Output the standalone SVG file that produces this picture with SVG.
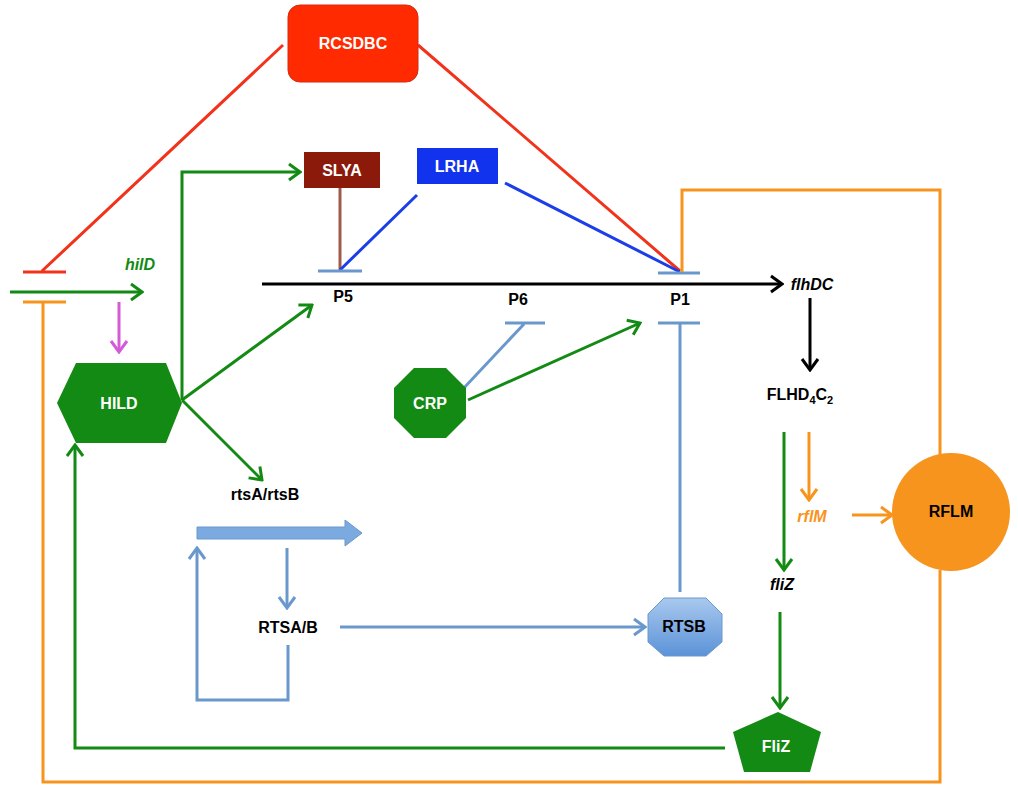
<svg xmlns="http://www.w3.org/2000/svg" width="1018" height="800" viewBox="0 0 1018 800">
<defs>
<style>
text{font-family:"Liberation Sans",Arial,sans-serif;font-weight:bold;font-size:16px;text-anchor:middle}
.w{fill:#fff}
.g{stroke:#138a13;stroke-width:3;fill:none}
.o{stroke:#f7941d;stroke-width:3;fill:none}
.b{stroke:#6b98cc;stroke-width:3;fill:none}
.r{stroke:#f2321a;stroke-width:3;fill:none}
</style>
<marker id="ag" viewBox="0 0 16 20" refX="14" refY="10" markerWidth="16" markerHeight="20" orient="auto" markerUnits="userSpaceOnUse"><path d="M3,2 L14,10 L3,18" fill="none" stroke="#138a13" stroke-width="3"/></marker>
<marker id="ao" viewBox="0 0 16 20" refX="14" refY="10" markerWidth="16" markerHeight="20" orient="auto" markerUnits="userSpaceOnUse"><path d="M3,2 L14,10 L3,18" fill="none" stroke="#f7941d" stroke-width="3"/></marker>
<marker id="ab" viewBox="0 0 16 20" refX="14" refY="10" markerWidth="16" markerHeight="20" orient="auto" markerUnits="userSpaceOnUse"><path d="M3,2 L14,10 L3,18" fill="none" stroke="#6b98cc" stroke-width="3"/></marker>
<marker id="ak" viewBox="0 0 16 20" refX="14" refY="10" markerWidth="16" markerHeight="20" orient="auto" markerUnits="userSpaceOnUse"><path d="M3,2 L14,10 L3,18" fill="none" stroke="#000" stroke-width="3"/></marker>
<marker id="am" viewBox="0 0 16 20" refX="14" refY="10" markerWidth="16" markerHeight="20" orient="auto" markerUnits="userSpaceOnUse"><path d="M3,2 L14,10 L3,18" fill="none" stroke="#d45ad8" stroke-width="3"/></marker>
<linearGradient id="bl" x1="0" y1="0" x2="0" y2="1"><stop offset="0" stop-color="#a9c8ee"/><stop offset="1" stop-color="#5b93d8"/></linearGradient>
</defs>
<rect width="1018" height="800" fill="#fff"/>
<g id="connectors">
<path class="r" d="M283,45 L42,271 M23,272 H66 M418,45 L680,271"/>
<path d="M340,188 V270" stroke="#a05a4a" stroke-width="3"/>
<path d="M417,195 L340,270 M505,183 L680,272" stroke="#1b3ee8" stroke-width="3"/>
<path class="b" d="M318,271 H362 M658,273 H700 M505,323 H545 M658,323 H700 M680,323 V592 M462,390 L524,324"/>
<path d="M262,284 H782" stroke="#000" stroke-width="3" marker-end="url(#ak)"/>
<path d="M810,298 V370" stroke="#000" stroke-width="3" marker-end="url(#ak)"/>
<path class="g" d="M10,292 H142" marker-end="url(#ag)"/>
<path class="o" d="M23,302 H66 M43,302 V782 H940 V570 M940,455 V190 H682 V272"/>
<path d="M119,302 V352" stroke="#d45ad8" stroke-width="3" marker-end="url(#am)"/>
<path class="g" d="M182,400 V172 H300" marker-end="url(#ag)"/>
<path class="g" d="M182,400 L312,305" marker-end="url(#ag)"/>
<path class="g" d="M182,400 L262,480" marker-end="url(#ag)"/>
<path class="g" d="M468,400 L640,323" marker-end="url(#ag)"/>
<path class="g" d="M784,432 V570" marker-end="url(#ag)"/>
<path class="o" d="M809,432 V500" marker-end="url(#ao)"/>
<path class="o" d="M852,515 H892" marker-end="url(#ao)"/>
<path class="g" d="M780,612 V708" marker-end="url(#ag)"/>
<path class="g" d="M725,748 H75 V445" marker-end="url(#ag)"/>
<path d="M197,527 H345 V520 L362,533 L345,546 V539 H197 Z" fill="#7aaae0" stroke="#6b98cc" stroke-width="1"/>
<path class="b" d="M287,548 V608" marker-end="url(#ab)"/>
<path class="b" d="M288,645 V700 H197 V548" marker-end="url(#ab)"/>
<path class="b" d="M340,627 H645" marker-end="url(#ab)"/>
</g>
<g id="RCSDBC"><rect x="288" y="5" width="130" height="77" rx="12" fill="#ff2a00" stroke="#d62a10"/><text class="w" x="353" y="49">RCSDBC</text></g>
<g id="SLYA"><rect x="304" y="152" width="76" height="36" fill="#8b1a0a"/><text class="w" x="342" y="176">SLYA</text></g>
<g id="LRHA"><rect x="417" y="148" width="81" height="36" fill="#1133ee"/><text class="w" x="457" y="172">LRHA</text></g>
<g id="hilD"><text x="140" y="270" fill="#138a13" font-style="italic">hilD</text></g>
<g id="HILD"><polygon points="57,403 76,363 166,363 182,403 166,443 76,443" fill="#138a13"/><text class="w" x="119" y="409">HILD</text></g>
<g id="P5"><text x="343" y="302">P5</text></g>
<g id="P6"><text x="518" y="305">P6</text></g>
<g id="P1"><text x="680" y="305">P1</text></g>
<g id="flhDC"><text x="812" y="290" font-style="italic">flhDC</text></g>
<g id="CRP"><polygon points="414,368 446,368 466,388 466,418 446,438 414,438 394,418 394,388" fill="#138a13"/><text class="w" x="430" y="409">CRP</text></g>
<g id="FLHD4C2"><text x="800" y="400">FLHD<tspan font-size="11" dy="4">4</tspan><tspan dy="-4">C</tspan><tspan font-size="11" dy="4">2</tspan></text></g>
<g id="rflM"><text x="812" y="522" fill="#f7941d" font-style="italic">rflM</text></g>
<g id="RFLM"><circle cx="951" cy="512" r="59" fill="#f7941d"/><text x="951" y="517">RFLM</text></g>
<g id="fliZ"><text x="782" y="590" font-style="italic">fliZ</text></g>
<g id="FliZ"><polygon points="778,712 821,732 810,772 744,772 733,732" fill="#138a13"/><text class="w" x="776" y="752">FliZ</text></g>
<g id="rtsArtsB"><text x="265" y="500">rtsA/rtsB</text></g>
<g id="RTSAB"><text x="288" y="633">RTSA/B</text></g>
<g id="RTSB"><polygon points="664,598 706,598 722,614 722,642 706,656 664,656 648,642 648,614" fill="url(#bl)" stroke="#6b98cc"/><text x="684" y="632">RTSB</text></g>
</svg>
